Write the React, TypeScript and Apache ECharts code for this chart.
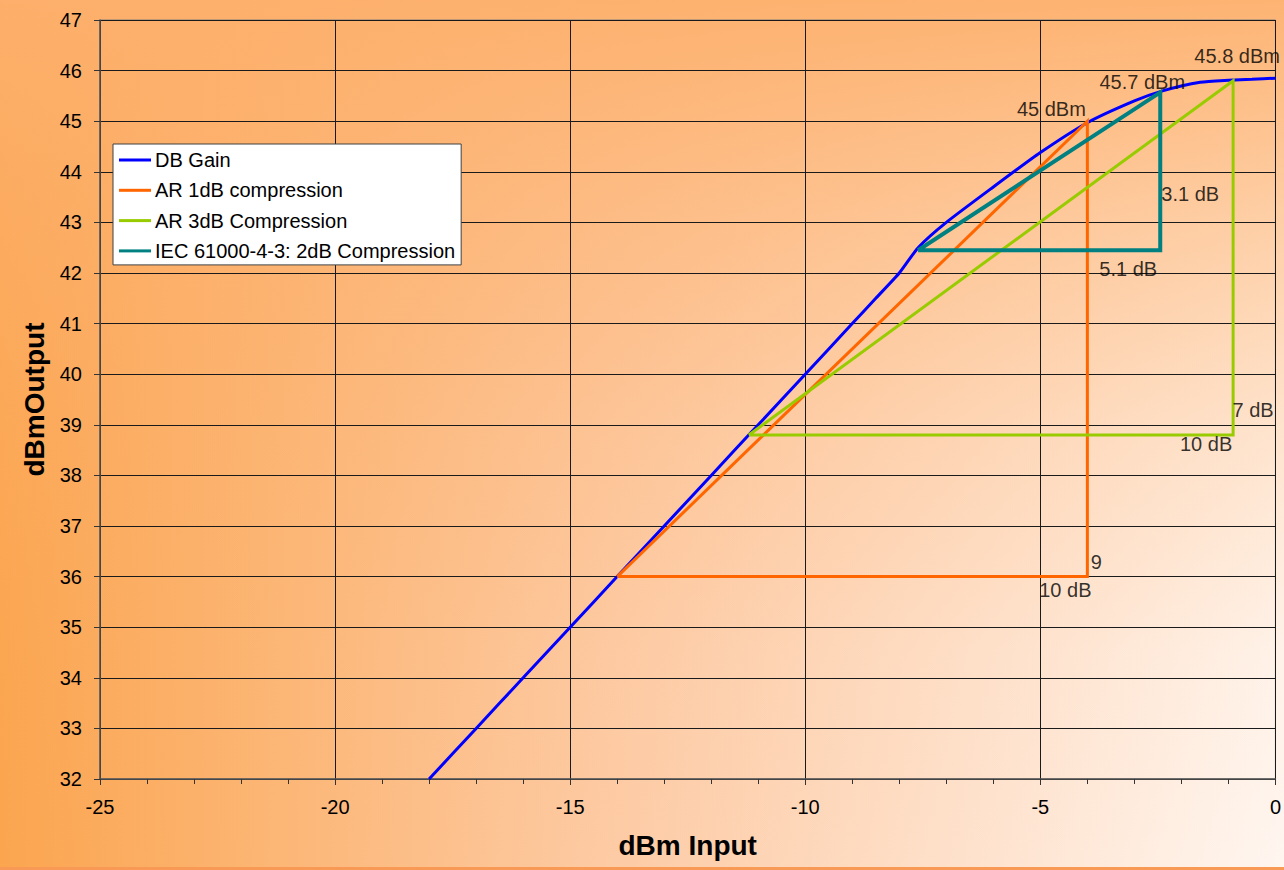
import React, { useEffect, useRef } from "react";
import * as echarts from "echarts";

// ---- Data ----
const dbGainInput = [-18, -17, -16, -15, -14, -13, -12, -11, -10, -9, -8.5, -8, -7.6, -7, -6, -5, -4, -3, -2.4, -1.6, -1, -0.5, 0];
const dbGainOutput = [32, 33, 34, 35, 36, 37, 38, 39, 40, 41, 41.5, 42, 42.5, 43, 43.7, 44.38, 44.97, 45.4, 45.6, 45.77, 45.81, 45.83, 45.85];

const ar1Input = [-14, -4, -4, -14];
const ar1Output = [36, 45, 36, 36];

const ar3Input = [-11.2, -0.9, -0.9, -11.2];
const ar3Output = [38.8, 45.8, 38.8, 38.8];

const iecInput = [-7.6, -2.45, -2.45, -7.6];
const iecOutput = [42.45, 45.57, 42.45, 42.45];

const seriesNames = ["DB Gain", "AR 1dB compression", "AR 3dB Compression", "IEC 61000-4-3: 2dB Compression"];

const xTicks = [-25, -20, -15, -10, -5, 0];
const yTicks = [32, 33, 34, 35, 36, 37, 38, 39, 40, 41, 42, 43, 44, 45, 46, 47];

// annotation texts and which triangle vertex they belong to
const annotationTexts = ["45 dBm", "10 dB", "9", "45.8 dBm", "10 dB", "7 dB", "45.7 dBm", "5.1 dB", "3.1 dB"];
const annotationSeries = ["ar1", "ar1", "ar1", "ar3", "ar3", "ar3", "iec", "iec", "iec"];
const annotationVertex = [1, 2, 2, 1, 2, 2, 1, 2, 2];

// pixel offsets of the annotation labels from their vertex (layout only)
const annotationOffsets = [
  [-36, -12],
  [-22, 13],
  [9, -15],
  [4, -25],
  [-27, 9],
  [20, -25],
  [-18, -10],
  [-32, 19],
  [30, -56],
];

const zip = (xs: number[], ys: number[]) => xs.map((x, i) => [x, ys[i]]);

export default function App() {
  const ref = useRef<HTMLDivElement>(null);

  useEffect(() => {
    if (!ref.current) return;
    const chart = echarts.init(ref.current, null, { renderer: "svg" });
    const font = "'Liberation Sans', Arial, sans-serif";
    const fs = 20;

    const triangles: Record<string, number[][]> = {
      ar1: zip(ar1Input, ar1Output),
      ar3: zip(ar3Input, ar3Output),
      iec: zip(iecInput, iecOutput),
    };

    const annotationData = annotationTexts.map((t, i) => ({
      value: triangles[annotationSeries[i]][annotationVertex[i]],
      label: {
        formatter: t,
        offset: annotationOffsets[i],
      },
    }));

    const option: any = {
      animation: false,
      backgroundColor: "transparent",
      textStyle: { fontFamily: font },
      grid: {
        left: 100,
        right: 8,
        top: 20,
        bottom: 91,
        show: true,
        borderColor: "#808080",
        borderWidth: 1,
        backgroundColor: "transparent",
      },
      legend: {
        data: seriesNames,
        orient: "vertical",
        left: 113,
        top: 144,
        padding: [6, 6, 4, 6],
        itemGap: 10.3,
        itemWidth: 32,
        itemHeight: 3,
        icon: "rect",
        backgroundColor: "#ffffff",
        borderColor: "#404040",
        borderWidth: 1,
        borderRadius: 0,
        textStyle: { fontSize: fs, color: "#000", fontFamily: font, lineHeight: 20, padding: [0, 0, 0, -1] },
      },
      xAxis: {
        type: "value",
        min: xTicks[0],
        max: xTicks[xTicks.length - 1],
        interval: 5,
        name: "dBm Input",
        nameLocation: "middle",
        nameGap: 52,
        nameTextStyle: { fontSize: 28, fontWeight: "bold", color: "#000", fontFamily: font },
        axisLine: { show: true, onZero: false, lineStyle: { color: "#555", width: 1.5 } },
        axisTick: { show: true, inside: false, length: 6, lineStyle: { color: "#333" } },
        minorTick: { show: true, splitNumber: 5, length: 5, lineStyle: { color: "#333" } },
        axisLabel: { fontSize: fs, color: "#000", margin: 18, fontFamily: font },
        splitLine: { show: true, lineStyle: { color: "#1a1a1a", width: 1 } },
      },
      yAxis: {
        type: "value",
        min: yTicks[0],
        max: yTicks[yTicks.length - 1],
        interval: 1,
        name: "dBmOutput",
        nameLocation: "middle",
        nameRotate: 90,
        nameGap: 51,
        nameTextStyle: { fontSize: 28, fontWeight: "bold", color: "#000", fontFamily: font },
        axisLine: { show: true, onZero: false, lineStyle: { color: "#555", width: 1.5 } },
        axisTick: { show: true, inside: false, length: 6, lineStyle: { color: "#333" } },
        axisLabel: { fontSize: fs, color: "#000", margin: 18, fontFamily: font },
        splitLine: { show: true, lineStyle: { color: "#1a1a1a", width: 1 } },
      },
      graphic: [
        {
          type: "rect",
          left: 0,
          bottom: 0,
          shape: { width: 1284, height: 3 },
          style: { fill: "#F89A55" },
          silent: true,
        },
      ],
      series: [
        {
          name: seriesNames[0],
          type: "line",
          data: zip(dbGainInput, dbGainOutput),
          showSymbol: false,
          symbol: "none",
          smooth: 0.2,
          lineStyle: { color: "#0000FF", width: 3 },
          itemStyle: { color: "#0000FF" },
          z: 2,
        },
        {
          name: seriesNames[1],
          type: "line",
          data: triangles.ar1,
          showSymbol: false,
          symbol: "none",
          lineStyle: { color: "#FF6600", width: 3, join: "miter" },
          itemStyle: { color: "#FF6600" },
          z: 3,
        },
        {
          name: seriesNames[2],
          type: "line",
          data: triangles.ar3,
          showSymbol: false,
          symbol: "none",
          lineStyle: { color: "#99CC00", width: 3, join: "miter" },
          itemStyle: { color: "#99CC00" },
          z: 4,
        },
        {
          name: seriesNames[3],
          type: "line",
          data: triangles.iec,
          showSymbol: false,
          symbol: "none",
          lineStyle: { color: "#008080", width: 4, join: "miter" },
          itemStyle: { color: "#008080" },
          z: 5,
        },
        {
          name: "annotations",
          type: "scatter",
          data: annotationData,
          symbolSize: 0,
          silent: true,
          clip: false,
          z: 10,
          label: {
            show: true,
            position: "inside",
            align: "center",
            verticalAlign: "middle",
            fontSize: fs,
            color: "#000",
            fontFamily: font,
          },
        },
      ],
    };

    chart.setOption(option);
    return () => chart.dispose();
  }, []);

  return (
    <div
      ref={ref}
      style={{
        position: "absolute",
        left: 0,
        top: 0,
        width: 1284,
        height: 870,
        background:
          "linear-gradient(to bottom, rgba(253,176,108,0.95) 0%, rgba(253,176,108,0.56) 25%, rgba(253,176,108,0.25) 50%, rgba(253,176,108,0.06) 75%, rgba(253,176,108,0) 100%), linear-gradient(to right, #FBA54F 0%, #FDCBA5 48%, #FFF6F0 100%)",
      }}
    />
  );
}
